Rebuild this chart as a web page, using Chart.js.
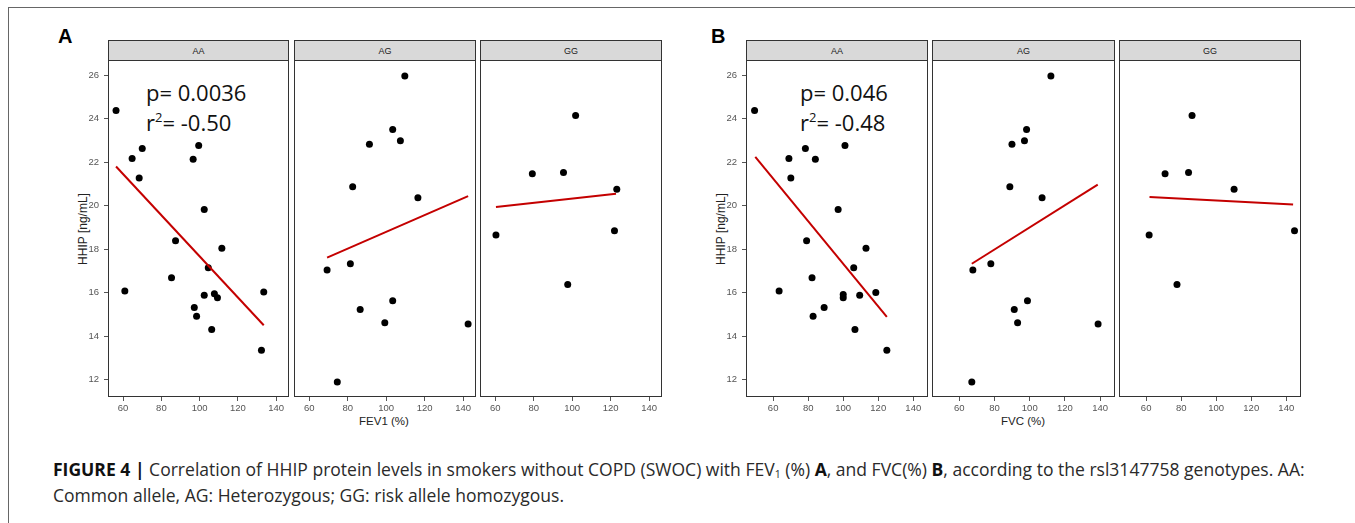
<!DOCTYPE html>
<html>
<head>
<meta charset="utf-8">
<script src="https://cdn.jsdelivr.net/npm/chart.js@4.4.0/dist/chart.umd.min.js"></script>
<style>
  body { margin: 0; width: 1355px; height: 523px; overflow: hidden; background: #fff; position: relative; font-family: "Liberation Sans", Arial, sans-serif; }
  .frame { position: absolute; left: 8px; top: 7px; width: 1400px; height: 600px; border: 1px solid #666; }
  canvas { position: absolute; }
  .strip { position: absolute; top: 40px; height: 21px; background: #d9d9d9; border: 1px solid #333; box-sizing: border-box;
           display: flex; align-items: center; justify-content: center; font-size: 9px; color: #1a1a1a; }
  .letter { position: absolute; top: 26px; font-size: 20px; font-weight: bold; line-height: 1; color: #000; }
  .stat { position: absolute; font-family: "Open Sans", sans-serif; font-size: 22px; line-height: 1; color: #111; white-space: nowrap; }
  .stat sup { font-size: 13px; vertical-align: 9px; line-height: 0; }
  .ytitle { position: absolute; font-size: 12px; color: #222; white-space: nowrap; transform: translate(-50%, -50%) rotate(-90deg); }
  .xtitle { position: absolute; font-size: 11.5px; color: #222; white-space: nowrap; transform: translate(-50%, -50%); }
  .caption { position: absolute; left: 53px; line-height: 1; color: #2a2a2a; white-space: nowrap; font-family: "Open Sans", sans-serif; font-size: 15px; }
  .caption b { color: #111; }
  .caption sub { font-size: 0.6em; vertical-align: -2px; line-height: 0; }
</style>
</head>
<body>
<div class="frame"></div>

<div class="letter" style="left:58px">A</div>
<div class="letter" style="left:711px">B</div>

<div class="strip" style="left:108px;width:181px">AA</div>
<div class="strip" style="left:294px;width:182px">AG</div>
<div class="strip" style="left:480px;width:182px">GG</div>
<div class="strip" style="left:746px;width:182px">AA</div>
<div class="strip" style="left:932px;width:183px">AG</div>
<div class="strip" style="left:1119px;width:182px">GG</div>

<div class="stat" style="left:146px;top:81px">p= 0.0036</div>
<div class="stat" style="left:146px;top:111px">r<sup>2</sup>= -0.50</div>
<div class="stat" style="left:800px;top:81px">p= 0.046</div>
<div class="stat" style="left:800px;top:111px">r<sup>2</sup>= -0.48</div>

<div class="ytitle" style="left:83px;top:229px">HHIP [ng/mL]</div>
<div class="ytitle" style="left:721px;top:229px">HHIP [ng/mL]</div>
<div class="xtitle" style="left:384px;top:421px">FEV1 (%)</div>
<div class="xtitle" style="left:1023px;top:421px">FVC (%)</div>

<div class="caption" id="cap1" style="top:461px"><b>FIGURE 4 |</b> Correlation of HHIP protein levels in smokers without COPD (SWOC) with FEV<sub>1</sub> (%) <b>A</b>, and FVC(%) <b>B</b>, according to the rsl3147758 genotypes. AA:</div>
<div class="caption" id="cap2" style="top:487px">Common allele, AG: Heterozygous; GG: risk allele homozygous.</div>

<canvas id="aAA"></canvas><canvas id="aAG"></canvas><canvas id="aGG"></canvas>
<canvas id="bAA"></canvas><canvas id="bAG"></canvas><canvas id="bGG"></canvas>

<script>
// --- 資料 ---
const yTicks = [12, 14, 16, 18, 20, 22, 24, 26];
const xTicks = [60, 80, 100, 120, 140];

// A: FEV1 (%)
const fev1AA = [56.3, 64.7, 70, 68.4, 96.6, 99.5, 102.4, 60.9, 87.4, 85.3, 104.5, 111.6, 102.4, 97.2, 98.4, 107.7, 109.3, 106.3, 133.5, 132.3];
const hhipFev1AA = [24.38, 22.17, 22.63, 21.27, 22.13, 22.77, 19.82, 16.07, 18.39, 16.69, 17.15, 18.04, 15.88, 15.32, 14.91, 15.95, 15.77, 14.31, 16.03, 13.35];
const fev1AG = [109.7, 103.4, 107.4, 91.3, 82.6, 116.5, 69.3, 81.4, 74.6, 86.5, 103.4, 99.3, 142.6];
const hhipFev1AG = [25.96, 23.5, 22.99, 22.83, 20.87, 20.37, 17.04, 17.33, 11.89, 15.22, 15.63, 14.62, 14.56];
const fev1GG = [101.8, 79.3, 95.5, 123.2, 60.4, 122, 97.7];
const hhipFev1GG = [24.15, 21.47, 21.52, 20.76, 18.65, 18.85, 16.38];
const fitFev1AA = { x: [56.3, 133.5], y: [21.8, 14.5] };
const fitFev1AG = { x: [69.3, 142.6], y: [17.61, 20.44] };
const fitFev1GG = { x: [60.4, 122.8], y: [19.94, 20.55] };

// B: FVC (%)
const fvcAA = [49.4, 69, 78.4, 70.1, 84.1, 101, 97.1, 63.4, 79.1, 82.2, 106, 113, 100, 100, 89.1, 82.8, 109.4, 118.6, 106.7, 124.9];
const hhipFvcAA = [24.38, 22.17, 22.63, 21.27, 22.13, 22.77, 19.82, 16.07, 18.39, 16.69, 17.15, 18.04, 15.92, 15.77, 15.32, 14.91, 15.88, 16.01, 14.31, 13.35];
const fvcAG = [112, 98.2, 97, 89.9, 88.7, 107, 67.7, 77.9, 67.1, 91.2, 98.7, 93.1, 138.8];
const hhipFvcAG = [25.96, 23.5, 22.99, 22.83, 20.87, 20.37, 17.04, 17.33, 11.89, 15.22, 15.63, 14.62, 14.56];
const fvcGG = [86.2, 70.8, 84.2, 110.2, 61.7, 144.7, 77.6];
const hhipFvcGG = [24.15, 21.47, 21.52, 20.76, 18.65, 18.85, 16.38];
const fitFvcAA = { x: [49.8, 124.9], y: [22.24, 14.88] };
const fitFvcAG = { x: [67.1, 138.6], y: [17.33, 20.97] };
const fitFvcGG = { x: [61.9, 143.9], y: [20.4, 20.05] };

const Y_RANGE = [11.2, 26.7];
const X_RANGE_A = [52.1, 146.7];
const X_RANGE_B = [44.5, 148.4];

// --- 版面 ---
const PLOT_TOP = 60, PLOT_H = 337, Y_AXIS_W = 30, X_AXIS_H = 22;

const panelBorder = {
    id: 'panelBorder',
    afterDraw(chart) {
        const a = chart.chartArea, c = chart.ctx;
        c.save();
        c.strokeStyle = '#333';
        c.lineWidth = 1;
        c.strokeRect(a.left + 0.5, a.top + 0.5, a.right - a.left - 1, a.bottom - a.top - 1);
        c.restore();
    }
};

const toPts = (xs, ys) => xs.map((x, i) => ({ x: x, y: ys[i] }));
const tickFont = { family: 'Liberation Sans', size: 9.5 };

function facet(id, plotLeft, plotW, xRange, xs, ys, fit, showY) {
    const cv = document.getElementById(id);
    const yw = showY ? Y_AXIS_W : 0;
    cv.width = plotW + yw;
    cv.height = PLOT_H + X_AXIS_H;
    cv.style.left = (plotLeft - yw) + 'px';
    cv.style.top = PLOT_TOP + 'px';

    return new Chart(cv.getContext('2d'), {
        type: 'scatter',
        data: {
            datasets: [
                { data: toPts(fit.x, fit.y), showLine: true, borderColor: '#c40000', borderWidth: 2, pointRadius: 0, fill: false },
                { data: toPts(xs, ys), pointRadius: 3.5, pointBackgroundColor: '#000', pointBorderWidth: 0, clip: 5 }
            ]
        },
        options: {
            responsive: false,
            animation: false,
            layout: { padding: 0, autoPadding: false },
            plugins: { legend: { display: false }, tooltip: { enabled: false } },
            scales: {
                x: {
                    type: 'linear', min: xRange[0], max: xRange[1],
                    afterBuildTicks: a => { a.ticks = xTicks.map(v => ({ value: v })); },
                    afterFit: a => { a.height = X_AXIS_H; a.paddingLeft = 0; a.paddingRight = 0; },
                    grid: { drawOnChartArea: false, drawTicks: true, tickLength: 4, color: '#555' },
                    border: { display: false },
                    ticks: { padding: 2, color: '#555', font: tickFont, maxRotation: 0 }
                },
                y: {
                    display: showY,
                    type: 'linear', min: Y_RANGE[0], max: Y_RANGE[1],
                    afterBuildTicks: a => { a.ticks = yTicks.map(v => ({ value: v })); },
                    afterFit: a => { a.width = yw; a.paddingTop = 0; a.paddingBottom = 0; },
                    grid: { drawOnChartArea: false, drawTicks: true, tickLength: 4, color: '#555' },
                    border: { display: false },
                    ticks: { padding: 5, color: '#555', font: tickFont }
                }
            }
        },
        plugins: [panelBorder]
    });
}

facet('aAA', 108, 181, X_RANGE_A, fev1AA, hhipFev1AA, fitFev1AA, true);
facet('aAG', 294, 182, X_RANGE_A, fev1AG, hhipFev1AG, fitFev1AG, false);
facet('aGG', 480, 182, X_RANGE_A, fev1GG, hhipFev1GG, fitFev1GG, false);
facet('bAA', 746, 182, X_RANGE_B, fvcAA, hhipFvcAA, fitFvcAA, true);
facet('bAG', 932, 183, X_RANGE_B, fvcAG, hhipFvcAG, fitFvcAG, false);
facet('bGG', 1119, 182, X_RANGE_B, fvcGG, hhipFvcGG, fitFvcGG, false);

// 圖說字寬對齊：第一行結束於 x≈1305
const cap1 = document.getElementById('cap1');
const w1 = cap1.getBoundingClientRect().width;
const size = 15 * (1305 - 53) / w1;
document.querySelectorAll('.caption').forEach(s => { s.style.fontSize = size.toFixed(2) + 'px'; });
</script>
</body>
</html>
